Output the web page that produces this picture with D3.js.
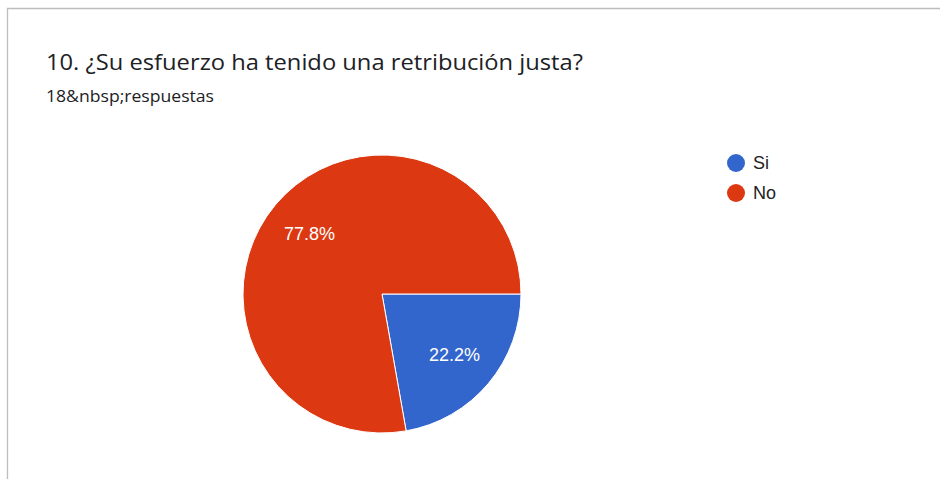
<!DOCTYPE html>
<html><head><meta charset="utf-8">
<script src="https://cdn.jsdelivr.net/npm/d3@7"></script>
<style>body{margin:0;background:#fff;}svg{display:block;font-family:"Liberation Sans",Arial,sans-serif;}</style>
</head><body>
<svg id="c" width="940" height="479"></svg>
<script>
const categories = ["Si", "No"];
const counts = [4, 14];
const colors = ["#3366cc", "#dc3912"];
const titleText = "10. ¿Su esfuerzo ha tenido una retribución justa?";
const subtitleText = "18&nbsp;respuestas";

const svg = d3.select("#c");
svg.append("path").attr("d","M7.5,479 L7.5,8.5 L940,8.5").attr("fill","none").attr("stroke","#bdbdbd").attr("stroke-width",1.3);

svg.append("text").attr("x",46).attr("y",70).attr("font-family","'Open Sans',sans-serif")
  .attr("font-size",22.5).attr("fill","#202124").attr("textLength",537).attr("lengthAdjust","spacingAndGlyphs").text(titleText);
svg.append("text").attr("x",46).attr("y",102).attr("font-family","'Open Sans',sans-serif")
  .attr("font-size",15.5).attr("fill","#202124").attr("textLength",168).attr("lengthAdjust","spacingAndGlyphs").text(subtitleText);

const cx = 382, cy = 294, r = 139;
const total = d3.sum(counts);
const pie = d3.pie().sort(null).startAngle(Math.PI/2).endAngle(Math.PI/2 + 2*Math.PI);
const arcs = pie(counts);
const arc = d3.arc().innerRadius(0).outerRadius(r);
const g = svg.append("g").attr("transform",`translate(${cx},${cy})`);
g.selectAll("path").data(arcs).join("path")
  .attr("d",arc).attr("fill",(d,i)=>colors[i]).attr("stroke","#fff").attr("stroke-width",1);
const labelArc = d3.arc().innerRadius(r*0.68).outerRadius(r*0.68);
g.selectAll("text").data(arcs).join("text")
  .attr("transform",d=>{const c=labelArc.centroid(d);return `translate(${c[0]},${c[1]})`;})
  .attr("text-anchor","middle").attr("dy","0.35em").attr("font-size",18).attr("fill","#fff")
  .text(d=>(d.data/total*100).toFixed(1)+"%");

const leg = svg.append("g");
categories.forEach((c,i)=>{
  const y = 163 + i*30;
  leg.append("circle").attr("cx",736).attr("cy",y).attr("r",9).attr("fill",colors[i]);
  leg.append("text").attr("x",753).attr("y",y).attr("dy","0.36em").attr("font-size",18).attr("fill","#222").text(c);
});
</script>
</body></html>
